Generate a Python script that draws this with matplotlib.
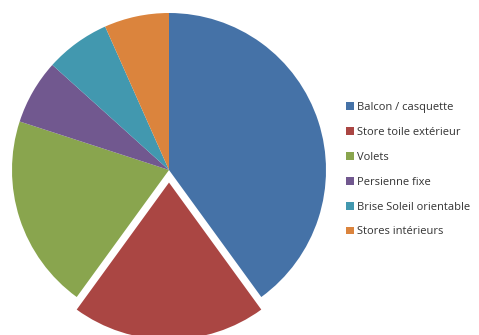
import matplotlib
matplotlib.use('Agg')
import matplotlib.pyplot as plt

labels = ['Balcon / casquette', 'Store toile extérieur', 'Volets',
          'Persienne fixe', 'Brise Soleil orientable', 'Stores intérieurs']
values = [6, 3, 3, 1, 1, 1]
colors = ['#4572A7', '#AA4643', '#89A54E', '#71588F', '#4298AF', '#DB843D']
explode = [0, 0.08, 0, 0, 0, 0]

plt.rcParams['font.family'] = ['Open Sans', 'DejaVu Sans']

fig = plt.figure(figsize=(4.79, 3.35), dpi=100)
ax = fig.add_axes([0, 0, 1, 1])

r_px = 157
cx, cy = 169, 170
wedges, _ = ax.pie(values, colors=colors, explode=explode, startangle=90,
                   counterclock=False, radius=1,
                   wedgeprops=dict(linewidth=0))
ax.set_xlim(-cx / r_px, (479 - cx) / r_px)
ax.set_ylim(-(335 - cy) / r_px, cy / r_px)
ax.set_aspect('auto')
ax.axis('off')

leg = ax.legend(wedges, labels, loc='upper left', bbox_to_anchor=(346 / 479, 1 - 102 / 335),
                frameon=False, fontsize=8, handlelength=0.7, handleheight=0.7,
                handletextpad=0.3, labelspacing=1.25, borderpad=0, borderaxespad=0)
for t in leg.get_texts():
    t.set_color('#333333')

fig.savefig('out.png', dpi=100)
